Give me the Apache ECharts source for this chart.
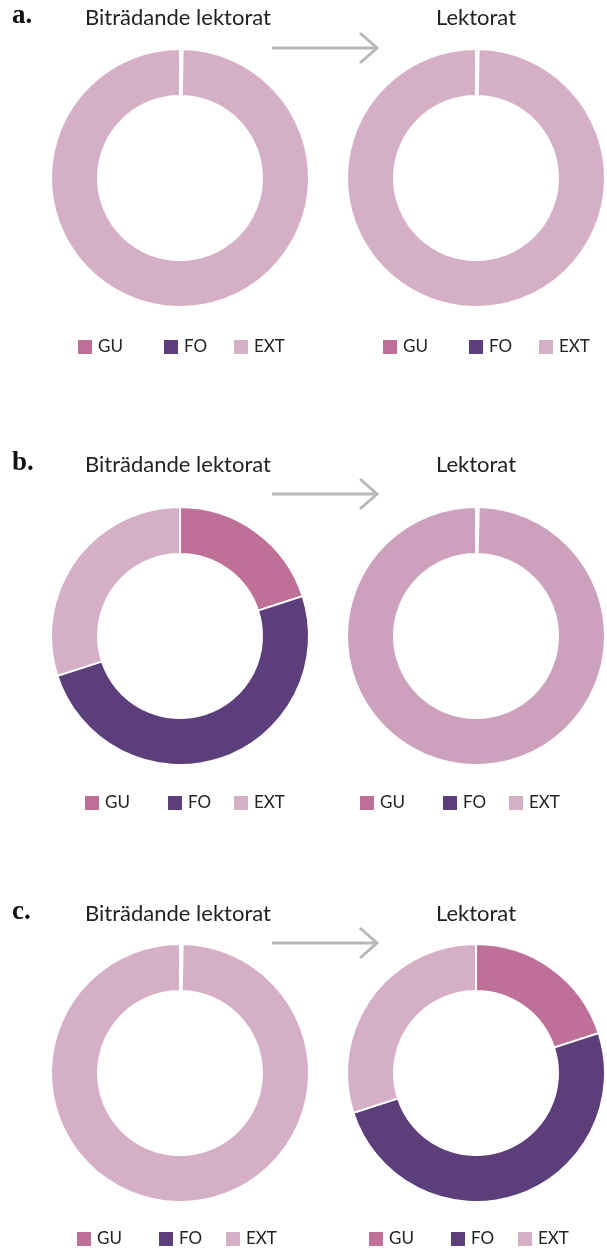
<!DOCTYPE html>
<html>
<head>
<meta charset="utf-8">
<script src="https://cdn.jsdelivr.net/npm/echarts@6/dist/echarts.min.js"></script>
<style>
  html, body { margin: 0; padding: 0; background: #fff; }
  #chart { width: 607px; height: 1250px; }
</style>
</head>
<body>
<div id="chart"></div>
<script>
// kategorier och andelar (%) per panel
const categories = ['GU', 'FO', 'EXT']
const panels = ['a.', 'b.', 'c.']
const leftTitle = 'Biträdande lektorat'
const rightTitle = 'Lektorat'
const aLeft = [0, 0, 100]
const aRight = [0, 0, 100]
const bLeft = [20, 50, 30]
const bRight = [0, 0, 100]
const cLeft = [0, 0, 100]
const cRight = [20, 50, 30]

const colors = ['#be7098', '#5c3f7a', '#d5afc6']
const font = 'Lato'

// layout per panel
const rowTitleY = [18, 465, 914]
const rowCenterY = [178, 636, 1073]
const rowLegendY = [338, 794, 1230]
const legendLeft = [[76, 381], [83, 358], [75, 367]]
const legendStep = [[86, 70], [83, 66], [82, 67]]
const arrowY = [48, 494, 943]
const colX = [180, 476]
const pad = 1.2

const chart = echarts.init(document.getElementById('chart'))

const rowData = [[aLeft, aRight], [bLeft, bRight], [cLeft, cRight]]
const series = []
const legends = []
const graphic = []

rowData.forEach((row, r) => {
  row.forEach((vals, c) => {
    const full = vals.filter(v => v > 0).length === 1
    const data = []
    categories.forEach((name, i) => {
      if (vals[i] <= 0) return
      const d = {name: name, value: vals[i], itemStyle: {color: colors[i]}}
      // högra ringen i b. har en något mörkare ton
      if (r === 1 && c === 1 && name === 'EXT') d.itemStyle = {color: '#cda1be'}
      data.push(d)
    })
    series.push({
      type: 'pie',
      center: [colX[c], rowCenterY[r]],
      radius: [82, 129],
      startAngle: full ? 90 - pad / 2 : 90,
      clockwise: true,
      padAngle: full ? pad : 0,
      silent: true,
      label: {show: false},
      labelLine: {show: false},
      itemStyle: {borderColor: '#fff', borderWidth: 2},
      data: data
    })
    // en legend per post för att få referensens avstånd
    let x = legendLeft[r][c]
    categories.forEach((name, i) => {
      legends.push({
        left: x - 5,
        top: rowLegendY[r] - 5,
        icon: 'rect',
        itemWidth: 16,
        itemHeight: 16,
        itemTextGap: 7,
        selectedMode: false,
        textStyle: {fontFamily: font, fontSize: 17, color: '#222'},
        data: [{name: name, itemStyle: {color: colors[i]}}]
      })
      if (i < 2) x += legendStep[r][i]
    })
  })

  graphic.push({
    type: 'text',
    left: 12,
    top: rowTitleY[r] - 15,
    style: {text: panels[r], font: 'bold 27px "Liberation Serif"', fill: '#111'}
  })
  graphic.push({
    type: 'text',
    x: colX[0] - 2,
    y: rowTitleY[r],
    style: {text: leftTitle, font: '22px ' + font, fill: '#222', align: 'center', verticalAlign: 'middle'}
  })
  graphic.push({
    type: 'text',
    x: colX[1],
    y: rowTitleY[r],
    style: {text: rightTitle, font: '22px ' + font, fill: '#222', align: 'center', verticalAlign: 'middle'}
  })
  graphic.push({
    type: 'line',
    shape: {x1: 272, y1: arrowY[r], x2: 376, y2: arrowY[r]},
    style: {stroke: '#b8b8b8', lineWidth: 3}
  })
  graphic.push({
    type: 'polyline',
    shape: {points: [[360, arrowY[r] - 15], [377, arrowY[r]], [360, arrowY[r] + 15]]},
    style: {stroke: '#b8b8b8', lineWidth: 3, fill: null}
  })
})

chart.setOption({
  animation: false,
  legend: legends,
  series: series,
  graphic: graphic
})
</script>
</body>
</html>
